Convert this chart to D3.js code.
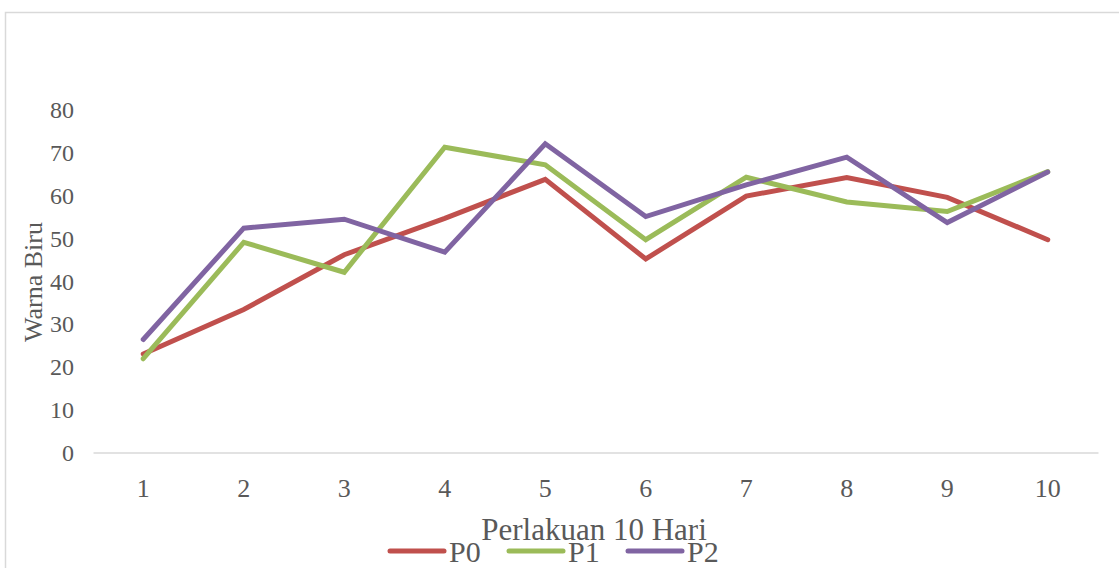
<!DOCTYPE html>
<html>
<head>
<meta charset="utf-8">
<script src="https://cdn.jsdelivr.net/npm/d3@7"></script>
<style>
  html, body { margin: 0; padding: 0; background: #fff; }
  svg { display: block; }
  text { font-family: "Liberation Serif", "Times New Roman", serif; fill: #595959; }
</style>
</head>
<body>
<svg id="chart" width="1119" height="568"></svg>
<script>
const categories = ["1","2","3","4","5","6","7","8","9","10"];
const seriesNames = ["P0","P1","P2"];
const seriesColors = ["#c0504d","#9bbb59","#8064a2"];
const P0 = [23.0, 33.4, 46.2, 54.7, 63.8, 45.2, 59.9, 64.2, 59.6, 49.7];
const P1 = [21.9, 49.1, 42.1, 71.3, 67.2, 49.7, 64.3, 58.5, 56.3, 65.6];
const P2 = [26.4, 52.4, 54.5, 46.8, 72.1, 55.1, 62.5, 69.0, 53.7, 65.5];
const yTicks = [0,10,20,30,40,50,60,70,80];
const xTitle = "Perlakuan 10 Hari";
const yTitle = "Warna Biru";

const series = [P0, P1, P2];
const svg = d3.select("#chart");

// outer chart border
svg.append("rect")
  .attr("x", 5.5).attr("y", 12.5)
  .attr("width", 1200).attr("height", 700)
  .attr("fill", "none").attr("stroke", "#d9d9d9").attr("stroke-width", 1.5);

const x = d3.scaleBand().domain(categories).range([93, 1098]);
const y = d3.scaleLinear().domain([0, 80]).range([452.5, 110]);

// x axis
const xAxis = svg.append("g").attr("transform", "translate(0,452.5)")
  .call(d3.axisBottom(x).tickSize(0).tickPadding(0));
xAxis.select(".domain").attr("stroke", "#d9d9d9").attr("stroke-width", 1.5);
xAxis.selectAll("text")
  .attr("y", 44).attr("dy", 0)
  .style("font-size", "26px").style("font-family", "Liberation Serif").attr("fill", "#595959");

// y axis (labels only)
const yAxis = svg.append("g").attr("transform", "translate(74,0)")
  .call(d3.axisLeft(y).tickValues(yTicks).tickSize(0).tickPadding(0));
yAxis.select(".domain").remove();
yAxis.selectAll("text")
  .attr("dy", "0.33em")
  .style("font-size", "24px").style("font-family", "Liberation Serif").attr("fill", "#595959");

// lines
const line = d3.line()
  .x((d, i) => x(categories[i]) + x.bandwidth() / 2)
  .y(d => y(d));

series.forEach((s, k) => {
  svg.append("path")
    .datum(s)
    .attr("d", line)
    .attr("fill", "none")
    .attr("stroke", seriesColors[k])
    .attr("stroke-width", 5)
    .attr("stroke-linecap", "round")
    .attr("stroke-linejoin", "miter");
});

// axis titles
svg.append("text")
  .attr("x", 594).attr("y", 540)
  .attr("text-anchor", "middle")
  .style("font-size", "31px")
  .text(xTitle);

svg.append("text")
  .attr("transform", "translate(42,282) rotate(-90)")
  .attr("text-anchor", "middle")
  .style("font-size", "26px")
  .text(yTitle);

// legend
const legendX = [390, 509, 628];
const legend = svg.append("g");
seriesNames.forEach((name, k) => {
  legend.append("line")
    .attr("x1", legendX[k]).attr("x2", legendX[k] + 54)
    .attr("y1", 551).attr("y2", 551)
    .attr("stroke", seriesColors[k])
    .attr("stroke-width", 5)
    .attr("stroke-linecap", "round");
  legend.append("text")
    .attr("x", legendX[k] + 59).attr("y", 562)
    .style("font-size", "30px")
    .text(name);
});
</script>
</body>
</html>
